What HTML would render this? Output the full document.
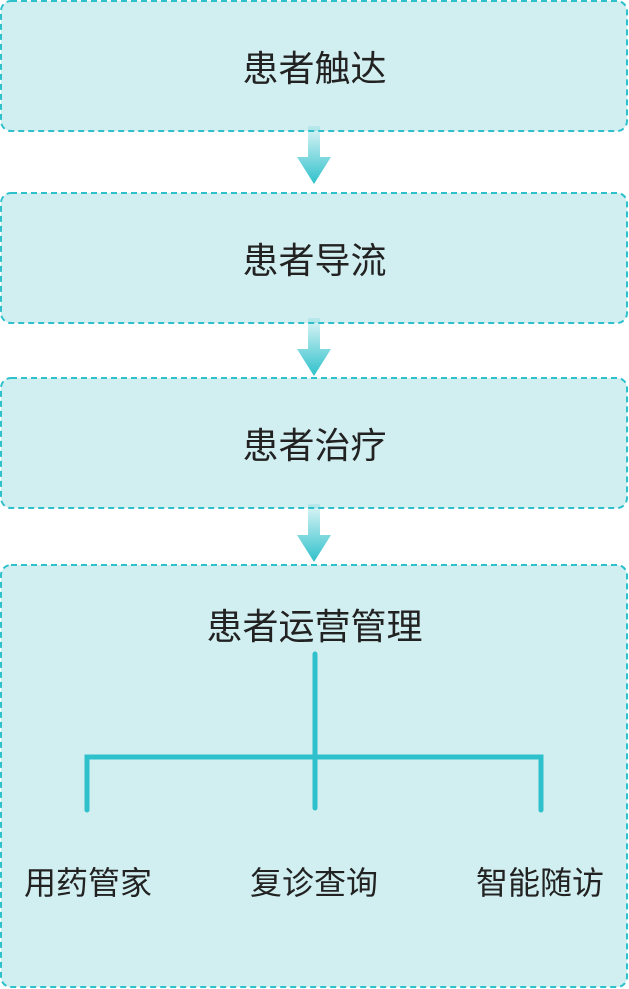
<!DOCTYPE html>
<html><head><meta charset="utf-8"><style>
body{margin:0;width:629px;height:989px;background:#fff;position:relative;overflow:hidden;font-family:"Liberation Sans","Noto Sans CJK SC",sans-serif;color:#222}
.t{position:absolute;left:0;width:629px;text-align:center;font-size:36px;line-height:44px}
.s{position:absolute;font-size:32px;line-height:40px;width:180px;text-align:center}
</style></head><body>
<svg width="629" height="989" style="position:absolute;left:0;top:0">
<defs><linearGradient id="g" x1="0" y1="0" x2="0" y2="1"><stop offset="0" stop-color="#2fc1cb" stop-opacity="0.15"/><stop offset="1" stop-color="#2fc1cb"/></linearGradient></defs>
<g fill="#d1eff0" stroke="#2fc1cb" stroke-width="2" stroke-dasharray="6 4">
<rect x="1" y="1" width="626" height="130" rx="10"/>
<rect x="1" y="193" width="626" height="130" rx="10"/>
<rect x="1" y="378" width="626" height="130" rx="10"/>
<rect x="1" y="565" width="626" height="422" rx="10"/>
</g>
<g fill="url(#g)">
<path d="M308 126h12v31h11l-17 27l-17-27h11z"/>
<path d="M308 318h12v31h11l-17 27l-17-27h11z"/>
<path d="M308 504h12v31h11l-17 27l-17-27h11z"/>
</g>
<g stroke="#2fc1cb" stroke-width="5" fill="none" stroke-linecap="round">
<path d="M315 654V808"/>
<path d="M87 810V757H541V810"/>
</g>
</svg>
<div class="t" style="top:47px">患者触达</div>
<div class="t" style="top:239px">患者导流</div>
<div class="t" style="top:424px">患者治疗</div>
<div class="t" style="top:605px">患者运营管理</div>
<div class="s" style="left:-2px;top:863px">用药管家</div>
<div class="s" style="left:224px;top:863px">复诊查询</div>
<div class="s" style="left:450px;top:863px">智能随访</div>
</body></html>
